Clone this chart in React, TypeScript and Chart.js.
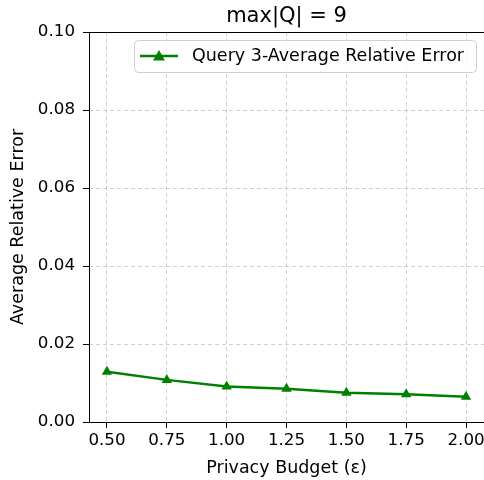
import React, { useEffect, useRef } from "react";
import { Chart, registerables } from "chart.js";

Chart.register(...registerables);

const budgets = [0.5, 0.75, 1.0, 1.25, 1.5, 1.75, 2.0];
const errors = [0.0129, 0.0108, 0.0091, 0.0085, 0.0075, 0.0071, 0.0065];
const xTicks = [0.5, 0.75, 1.0, 1.25, 1.5, 1.75, 2.0];
const yTicks = [0, 0.02, 0.04, 0.06, 0.08, 0.1];
const seriesLabel = "Query 3-Average Relative Error";
const chartTitle = "max|Q| = 9";
const xTitle = "Privacy Budget (ε)";
const yTitle = "Average Relative Error";

const FONT = "'DejaVu Sans', sans-serif";
const GREEN = "#008000";

const decorPlugin = {
  id: "decor",
  afterDraw(chart: any) {
    const { ctx, chartArea } = chart;
    const { left, right, top, bottom } = chartArea;
    ctx.save();
    // frame
    ctx.strokeStyle = "#000";
    ctx.lineWidth = 1;
    ctx.setLineDash([]);
    ctx.strokeRect(left + 0.5, top + 0.5, right - left, bottom - top);
    // title
    ctx.fillStyle = "#000";
    ctx.font = `21px ${FONT}`;
    ctx.textAlign = "center";
    ctx.textBaseline = "alphabetic";
    ctx.fillText(chartTitle, (left + right) / 2, 22);
    // legend
    const bx = 134.5, by = 40.5, bw = 342, bh = 32, r = 4;
    ctx.beginPath();
    ctx.moveTo(bx + r, by);
    ctx.lineTo(bx + bw - r, by);
    ctx.quadraticCurveTo(bx + bw, by, bx + bw, by + r);
    ctx.lineTo(bx + bw, by + bh - r);
    ctx.quadraticCurveTo(bx + bw, by + bh, bx + bw - r, by + bh);
    ctx.lineTo(bx + r, by + bh);
    ctx.quadraticCurveTo(bx, by + bh, bx, by + bh - r);
    ctx.lineTo(bx, by + r);
    ctx.quadraticCurveTo(bx, by, bx + r, by);
    ctx.closePath();
    ctx.fillStyle = "rgba(255,255,255,0.8)";
    ctx.fill();
    ctx.strokeStyle = "#d0d0d0";
    ctx.lineWidth = 1;
    ctx.stroke();
    const ly = 56;
    ctx.strokeStyle = GREEN;
    ctx.lineWidth = 2.5;
    ctx.beginPath();
    ctx.moveTo(140, ly);
    ctx.lineTo(178, ly);
    ctx.stroke();
    ctx.fillStyle = GREEN;
    ctx.beginPath();
    ctx.moveTo(159, ly - 6);
    ctx.lineTo(165, ly + 4.5);
    ctx.lineTo(153, ly + 4.5);
    ctx.closePath();
    ctx.fill();
    ctx.fillStyle = "#000";
    ctx.font = `17.5px ${FONT}`;
    ctx.textAlign = "left";
    ctx.textBaseline = "middle";
    ctx.fillText(seriesLabel, 192, ly);
    ctx.restore();
  },
};

export default function App() {
  const ref = useRef<HTMLCanvasElement>(null);
  useEffect(() => {
    const canvas = ref.current!;
    const chart = new Chart(canvas, {
      type: "line",
      data: {
        datasets: [
          {
            label: seriesLabel,
            data: budgets.map((b, i) => ({ x: b, y: errors[i] })),
            borderColor: GREEN,
            backgroundColor: GREEN,
            borderWidth: 2.5,
            pointStyle: "triangle",
            pointRadius: 6,
            pointBorderWidth: 0,
            pointBackgroundColor: GREEN,
            tension: 0,
          },
        ],
      },
      options: {
        responsive: false,
        animation: false,
        devicePixelRatio: 1,
        layout: { padding: { top: 32, right: 4, left: 0, bottom: 0 } },
        plugins: {
          legend: { display: false },
          title: { display: false },
          tooltip: { enabled: false },
        },
        scales: {
          x: {
            type: "linear",
            min: 0.425,
            max: 2.075,
            afterFit: (s: any) => {
              s.height = 58;
            },
            afterBuildTicks: (s: any) => {
              s.ticks = xTicks.map((v) => ({ value: v }));
            },
            ticks: {
              color: "#000",
              font: { family: FONT, size: 16.7 },
              padding: 3,
              maxRotation: 0,
              autoSkip: false,
              callback: (v: any) => Number(v).toFixed(2),
            },
            grid: {
              color: "rgba(176,176,176,0.6)",
              lineWidth: 1,
              drawTicks: true,
              tickLength: 6,
              tickColor: "#000",
              tickWidth: 1,
              tickBorderDash: [],
            },
            border: { display: false, dash: [4, 3] },
            title: {
              display: true,
              text: xTitle,
              color: "#000",
              font: { family: FONT, size: 17.5 },
              padding: { top: 1.5, bottom: 1.5 },
            },
          },
          y: {
            type: "linear",
            min: 0,
            max: 0.1,
            afterFit: (s: any) => {
              s.width = 89;
            },
            afterBuildTicks: (s: any) => {
              s.ticks = yTicks.map((v) => ({ value: v }));
            },
            ticks: {
              color: "#000",
              font: { family: FONT, size: 16.7 },
              padding: 8,
              autoSkip: false,
              callback: (v: any) => Number(v).toFixed(2),
            },
            grid: {
              color: "rgba(176,176,176,0.6)",
              lineWidth: 1,
              drawTicks: true,
              tickLength: 6,
              tickColor: "#000",
              tickWidth: 1,
              tickBorderDash: [],
            },
            border: { display: false, dash: [4, 3] },
            title: {
              display: true,
              text: yTitle,
              color: "#000",
              font: { family: FONT, size: 17.5 },
              padding: { top: 8, bottom: 0 },
            },
          },
        },
      },
      plugins: [decorPlugin],
    } as any);
    return () => chart.destroy();
  }, []);
  return (
    <div style={{ position: "fixed", left: 0, top: 0, width: 490, height: 480, background: "#fff" }}>
      <canvas ref={ref} width={490} height={480} style={{ display: "block" }} />
    </div>
  );
}
